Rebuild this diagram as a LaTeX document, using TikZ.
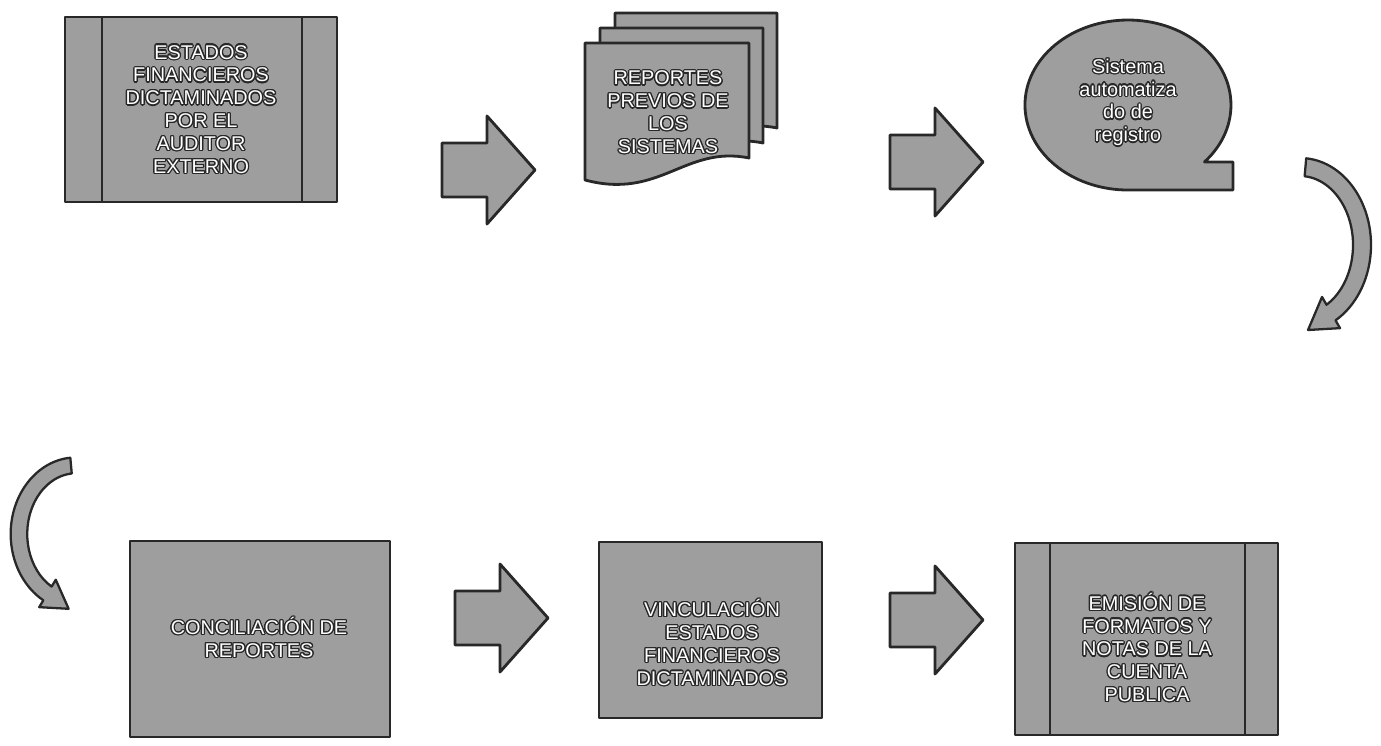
\documentclass[tikz,border=0pt]{standalone}
\usepackage{fontspec}
\setmainfont{Liberation Sans}
\usepackage{contour}
\contourlength{0.7pt}

\definecolor{boxgray}{RGB}{158,158,158}
\definecolor{edgegray}{RGB}{40,40,40}
\newcommand{\wt}[1]{\contour{edgegray}{#1}}

\tikzset{
  gbox/.style={fill=boxgray, draw=edgegray, line width=1.6pt, line join=round},
  txt/.style={text=white, align=center, inner sep=0pt},
  pics/blockarrow/.style={code={
    \draw[gbox] (0,-27) -- (45,-27) -- (45,-54) -- (93,0) -- (45,54) -- (45,27) -- (0,27) -- cycle;
  }},
  pics/bendarrow/.style={code={
    \draw[gbox, line width=1.3pt] (-85:71 and 87) arc[start angle=-85, end angle=60, x radius=71, y radius=87]
      -- (60:80 and 96) -- (8,85) -- (60:44 and 60) -- (60:53 and 69)
      arc[start angle=60, end angle=-85, x radius=53, y radius=69] -- cycle;
  }}
}

\begin{document}
\begin{tikzpicture}[x=0.02cm, y=-0.02cm, font=\fontsize{11.3}{13}\selectfont]

\useasboundingbox (0,0) rectangle (1381,746);

% top row
\draw[gbox] (65,17) rectangle (337,202);
\draw[gbox] (102,17) -- (102,202);
\draw[gbox] (302,17) -- (302,202);
\node[txt] (estados) at (201,110) {\wt{ESTADOS}\\\wt{FINANCIEROS}\\\wt{DICTAMINADOS}\\\wt{POR EL}\\\wt{AUDITOR}\\\wt{EXTERNO}};

\pic at (442,170) {blockarrow};

\draw[gbox] (615,13) -- (777,13) -- (777,128) .. controls (715,115) and (690,170) .. (615,150) -- cycle;
\draw[gbox] (600,28) -- (763,28) -- (763,143) .. controls (700,130) and (675,185) .. (600,165) -- cycle;
\draw[gbox] (585,43) -- (749,43) -- (749,158) .. controls (685,145) and (660,200) .. (585,180) -- cycle;
\node[txt] (reportes) at (668,113) {\wt{REPORTES}\\\wt{PREVIOS DE}\\\wt{LOS}\\\wt{SISTEMAS}};

\pic at (890,162) {blockarrow};

\draw[gbox] (1128,190) -- (1233,190) -- (1233,162) -- (1204.5,161.9)
  arc[start angle=42, end angle=-270, x radius=103, y radius=85] -- cycle;
\node[txt] (sistema) at (1128,103) {\wt{Sistema}\\\wt{automatiza}\\\wt{do de}\\\wt{registro}};

% turn to the second row
\pic at (1300,245) {bendarrow};
\pic[xscale=-0.92, yscale=0.88] at (76,534) {bendarrow};

% bottom row
\draw[gbox] (130,541) rectangle (390,737);
\node[txt] (conciliacion) at (259,638) {\wt{CONCILIACIÓN DE}\\\wt{REPORTES}};

\pic at (455,618) {blockarrow};

\draw[gbox] (599,542) rectangle (822,718);
\node[txt] (vinculacion) at (712,643) {\wt{VINCULACIÓN}\\\wt{ESTADOS}\\\wt{FINANCIEROS}\\\wt{DICTAMINADOS}};

\pic at (890,620) {blockarrow};

\draw[gbox] (1015,543) rectangle (1278,735);
\draw[gbox] (1050,543) -- (1050,735);
\draw[gbox] (1245,543) -- (1245,735);
\node[txt] (emision) at (1147,648) {\wt{EMISIÓN DE}\\\wt{FORMATOS Y}\\\wt{NOTAS DE LA}\\\wt{CUENTA}\\\wt{PUBLICA}};

\end{tikzpicture}
\end{document}
